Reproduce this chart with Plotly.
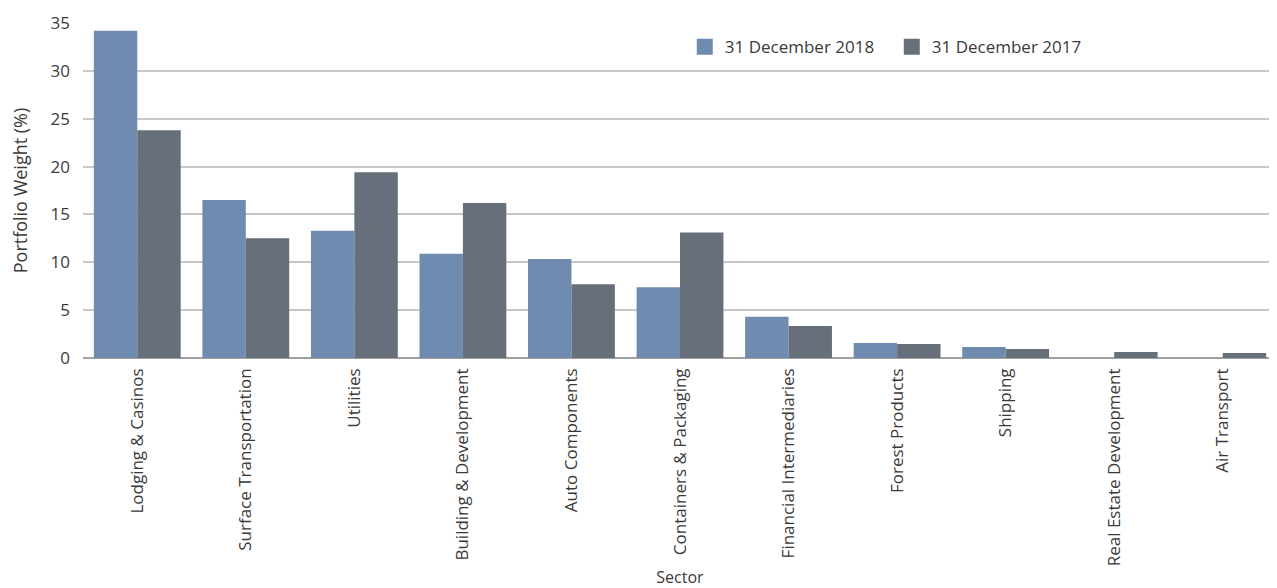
import plotly.graph_objects as go

sectors = ["Lodging & Casinos", "Surface Transportation", "Utilities", "Building & Development",
           "Auto Components", "Containers & Packaging", "Financial Intermediaries", "Forest Products",
           "Shipping", "Real Estate Development", "Air Transport"]
w2018 = [34.2, 16.5, 13.3, 10.9, 10.35, 7.4, 4.3, 1.57, 1.15, 0.0, 0.0]
w2017 = [23.8, 12.5, 19.4, 16.2, 7.7, 13.1, 3.35, 1.46, 0.94, 0.63, 0.52]
yticks = [0, 5, 10, 15, 20, 25, 30, 35]
series_names = ["31 December 2018", "31 December 2017"]
colors = ["#6f8bb0", "#676f7a"]

font = "Open Sans"
fig = go.Figure()
for name, vals, col in zip(series_names, [w2018, w2017], colors):
    fig.add_bar(x=sectors, y=vals, name=name, marker_color=col, marker_line_width=0,
                showlegend=False, legendgroup=name)
for name, col in zip(series_names, colors):
    fig.add_scatter(x=[None], y=[None], mode="markers", name=name, legendgroup=name,
                    marker=dict(symbol="square", size=22, color=col))

fig.update_layout(
    width=1269, height=580,
    margin=dict(l=75, r=0, t=15, b=230),
    barmode="group", bargap=0.2, bargroupgap=0,
    plot_bgcolor="white", paper_bgcolor="white",
    font=dict(family=font, color="#3a3a3a", size=14),
    showlegend=True,
    legend=dict(orientation="h", x=0.504, y=0.928, xanchor="left", yanchor="middle",
                font=dict(size=17, color="#3a3a3a"), itemsizing="trace",
                entrywidth=162, entrywidthmode="pixels", bgcolor="rgba(0,0,0,0)"),
)
fig.update_yaxes(range=[0, 35], tickvals=yticks, showgrid=True, gridcolor="#c8c8c8", gridwidth=1.5,
                 zeroline=True, zerolinecolor="#a0a0a0", zerolinewidth=1.5,
                 tickfont=dict(size=17), ticks="", ticklabelstandoff=12, automargin=False,
                 title=dict(text="Portfolio Weight (%)", font=dict(size=18), standoff=18))
fig.update_xaxes(tickangle=-90, tickfont=dict(size=17), showline=False, automargin=False,
                 ticklabelstandoff=6,
                 title=dict(text="Sector", font=dict(size=16), standoff=8))
fig.write_html("out.html")
